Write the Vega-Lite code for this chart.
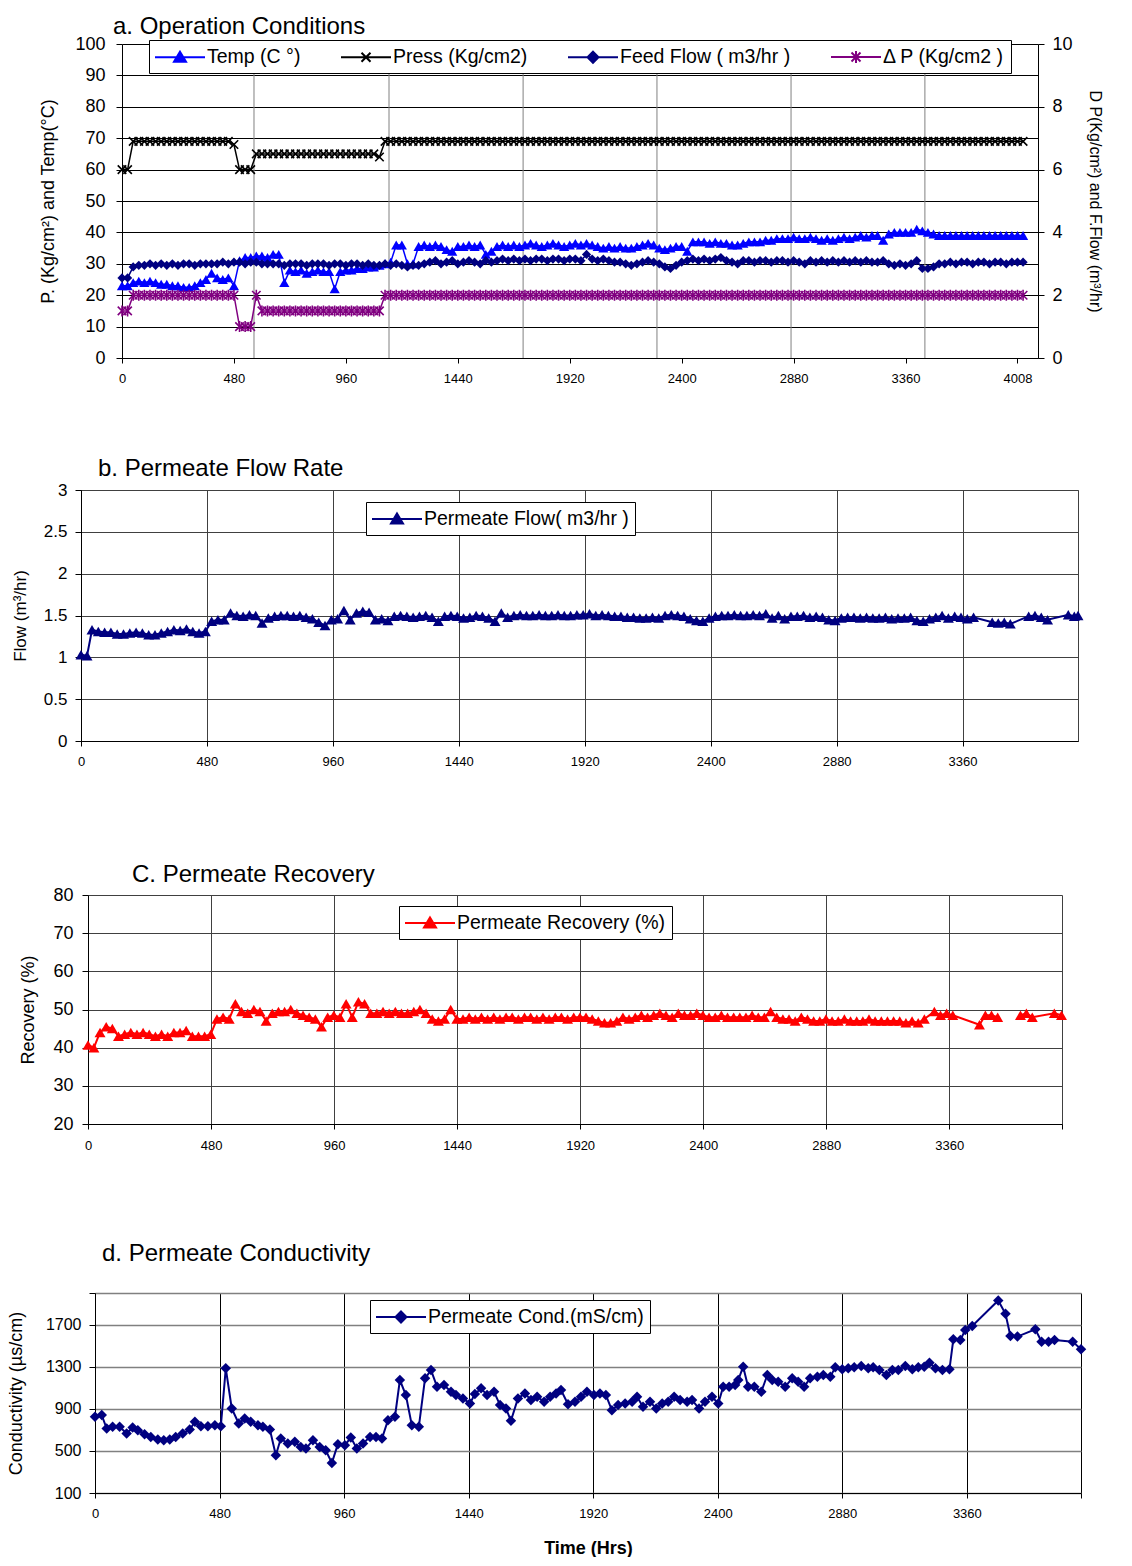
{
"$schema": "https://vega.github.io/schema/vega-lite/v6.json",
"padding": 0,
"background": "white",
"columns": 2,
"spacing": 0,
"bounds": "flush",
"align": "each",
"resolve": {"scale": {"color": "independent", "fill": "independent", "stroke": "independent", "shape": "independent"}, "legend": {"color": "independent", "fill": "independent", "stroke": "independent", "shape": "independent"}},
"config": {
 "font": "Liberation Sans",
 "view": {"stroke": null},
 "axis": {"labelFont": "Liberation Sans", "titleFont": "Liberation Sans", "labelColor": "black", "titleColor": "black", "titleFontWeight": "normal", "domainColor": "black", "tickColor": "black", "gridColor": "black", "gridOpacity": 1, "labelFontSize": 13, "tickSize": 5, "labelFlush": false, "labelOverlap": false},
 "legend": {"labelFont": "Liberation Sans", "labelFontSize": 19.5, "labelColor": "black", "fillColor": "white", "strokeColor": "black", "strokeWidth": 1, "padding": 6, "symbolSize": 400, "symbolStrokeWidth": 2, "labelOffset": 30, "columnPadding": 36, "labelLimit": 400},
 "title": {"font": "Liberation Sans", "fontSize": 24, "fontWeight": "normal", "color": "black", "anchor": "start", "frame": "group"}
},
"datasets": {
 "leg": [{"s":"T"},{"s":"P"},{"s":"F"},{"s":"D"}],
 "ga": [{"t":566},{"t":1145},{"t":1720},{"t":2294},{"t":2869},{"t":3443}],
 "a": [
{"t":0,"T":23,"P":60,"F":2.55,"D":1.5},{"t":24,"T":23,"P":60,"F":2.55,"D":1.5},{"t":48,"T":24,"P":69,"F":2.9,"D":2},{"t":72,"T":24.5,"P":69,"F":2.95,"D":2},{"t":96,"T":24,"P":69,"F":2.95,"D":2},{"t":120,"T":24.5,"P":69,"F":3,"D":2},{"t":144,"T":24,"P":69,"F":2.95,"D":2},{"t":168,"T":23.5,"P":69,"F":3,"D":2},{"t":192,"T":23.5,"P":69,"F":2.95,"D":2},{"t":216,"T":23,"P":69,"F":3,"D":2},
{"t":240,"T":23,"P":69,"F":2.95,"D":2},{"t":264,"T":22.5,"P":69,"F":3,"D":2},{"t":288,"T":22.5,"P":69,"F":3,"D":2},{"t":312,"T":23,"P":69,"F":2.95,"D":2},{"t":336,"T":24,"P":69,"F":3,"D":2},{"t":360,"T":25,"P":69,"F":3,"D":2},{"t":384,"T":27,"P":69,"F":3,"D":2},{"t":408,"T":25.5,"P":69,"F":3,"D":2},{"t":432,"T":25,"P":69,"F":3.05,"D":2},{"t":456,"T":25.5,"P":69,"F":3,"D":2},
{"t":480,"T":23,"P":68,"F":3.05,"D":2},{"t":504,"T":31,"P":60,"F":3.05,"D":1},{"t":528,"T":32,"P":60,"F":3,"D":1},{"t":552,"T":32,"P":60,"F":3.05,"D":1},{"t":576,"T":32.5,"P":65,"F":3.05,"D":2},{"t":600,"T":32.5,"P":65,"F":3,"D":1.5},{"t":624,"T":32,"P":65,"F":3,"D":1.5},{"t":648,"T":33,"P":65,"F":3,"D":1.5},{"t":672,"T":33,"P":65,"F":3,"D":1.5},{"t":696,"T":24,"P":65,"F":2.95,"D":1.5},
{"t":720,"T":28,"P":65,"F":3,"D":1.5},{"t":744,"T":27.5,"P":65,"F":3,"D":1.5},{"t":768,"T":28,"P":65,"F":3,"D":1.5},{"t":792,"T":27,"P":65,"F":2.95,"D":1.5},{"t":816,"T":27.5,"P":65,"F":3,"D":1.5},{"t":840,"T":28,"P":65,"F":3,"D":1.5},{"t":864,"T":27.5,"P":65,"F":3,"D":1.5},{"t":888,"T":27.5,"P":65,"F":2.95,"D":1.5},{"t":912,"T":22,"P":65,"F":3,"D":1.5},{"t":936,"T":27.5,"P":65,"F":3,"D":1.5},
{"t":960,"T":28,"P":65,"F":2.95,"D":1.5},{"t":984,"T":28,"P":65,"F":3,"D":1.5},{"t":1008,"T":28.5,"P":65,"F":3,"D":1.5},{"t":1032,"T":28.5,"P":65,"F":2.95,"D":1.5},{"t":1056,"T":29,"P":65,"F":3,"D":1.5},{"t":1080,"T":29,"P":65,"F":2.95,"D":1.5},{"t":1104,"T":29.5,"P":64,"F":2.95,"D":1.5},{"t":1128,"T":30,"P":69,"F":3,"D":2},{"t":1152,"T":30.5,"P":69,"F":2.95,"D":2},{"t":1176,"T":36,"P":69,"F":3,"D":2},
{"t":1200,"T":36,"P":69,"F":2.95,"D":2},{"t":1224,"T":30,"P":69,"F":2.9,"D":2},{"t":1248,"T":30,"P":69,"F":2.95,"D":2},{"t":1272,"T":35.5,"P":69,"F":2.95,"D":2},{"t":1296,"T":36,"P":69,"F":3,"D":2},{"t":1320,"T":35.5,"P":69,"F":3.05,"D":2},{"t":1344,"T":36,"P":69,"F":3.1,"D":2},{"t":1368,"T":35.5,"P":69,"F":3,"D":2},{"t":1392,"T":34.5,"P":69,"F":3.05,"D":2},{"t":1416,"T":34,"P":69,"F":3.1,"D":2},
{"t":1440,"T":35.5,"P":69,"F":3,"D":2},{"t":1464,"T":35.5,"P":69,"F":3.05,"D":2},{"t":1488,"T":36,"P":69,"F":3.1,"D":2},{"t":1512,"T":35.5,"P":69,"F":3.05,"D":2},{"t":1536,"T":36,"P":69,"F":3,"D":2},{"t":1560,"T":33,"P":69,"F":3.1,"D":2},{"t":1584,"T":34,"P":69,"F":3.05,"D":2},{"t":1608,"T":35.5,"P":69,"F":3.1,"D":2},{"t":1632,"T":36,"P":69,"F":3.15,"D":2},{"t":1656,"T":35.5,"P":69,"F":3.1,"D":2},
{"t":1680,"T":36,"P":69,"F":3.15,"D":2},{"t":1704,"T":35.5,"P":69,"F":3.1,"D":2},{"t":1728,"T":36,"P":69,"F":3.15,"D":2},{"t":1752,"T":36.5,"P":69,"F":3.1,"D":2},{"t":1776,"T":36,"P":69,"F":3.15,"D":2},{"t":1800,"T":35.5,"P":69,"F":3.15,"D":2},{"t":1824,"T":36,"P":69,"F":3.1,"D":2},{"t":1848,"T":36.5,"P":69,"F":3.15,"D":2},{"t":1872,"T":36,"P":69,"F":3.15,"D":2},{"t":1896,"T":35.5,"P":69,"F":3.1,"D":2},
{"t":1920,"T":36,"P":69,"F":3.15,"D":2},{"t":1944,"T":36.5,"P":69,"F":3.15,"D":2},{"t":1968,"T":36,"P":69,"F":3.1,"D":2},{"t":1992,"T":36.5,"P":69,"F":3.3,"D":2},{"t":2016,"T":36,"P":69,"F":3.15,"D":2},{"t":2040,"T":35.5,"P":69,"F":3.1,"D":2},{"t":2064,"T":35,"P":69,"F":3.15,"D":2},{"t":2088,"T":35.5,"P":69,"F":3.1,"D":2},{"t":2112,"T":35,"P":69,"F":3.05,"D":2},{"t":2136,"T":35.5,"P":69,"F":3.05,"D":2},
{"t":2160,"T":35,"P":69,"F":3,"D":2},{"t":2184,"T":35,"P":69,"F":2.95,"D":2},{"t":2208,"T":35.5,"P":69,"F":3,"D":2},{"t":2232,"T":36,"P":69,"F":3.05,"D":2},{"t":2256,"T":36.5,"P":69,"F":3.1,"D":2},{"t":2280,"T":36,"P":69,"F":3.05,"D":2},{"t":2304,"T":35,"P":69,"F":3,"D":2},{"t":2328,"T":34.5,"P":69,"F":2.9,"D":2},{"t":2352,"T":35,"P":69,"F":2.85,"D":2},{"t":2376,"T":35.5,"P":69,"F":2.95,"D":2},
{"t":2400,"T":35.5,"P":69,"F":3.05,"D":2},{"t":2424,"T":34,"P":69,"F":3.1,"D":2},{"t":2448,"T":37,"P":69,"F":3.15,"D":2},{"t":2472,"T":37,"P":69,"F":3.1,"D":2},{"t":2496,"T":37,"P":69,"F":3.15,"D":2},{"t":2520,"T":36.5,"P":69,"F":3.1,"D":2},{"t":2544,"T":37,"P":69,"F":3.15,"D":2},{"t":2568,"T":36.5,"P":69,"F":3.2,"D":2},{"t":2592,"T":36.5,"P":69,"F":3.1,"D":2},{"t":2616,"T":36,"P":69,"F":3.05,"D":2},
{"t":2640,"T":36,"P":69,"F":3,"D":2},{"t":2664,"T":36.5,"P":69,"F":3.1,"D":2},{"t":2688,"T":37,"P":69,"F":3.1,"D":2},{"t":2712,"T":37,"P":69,"F":3.05,"D":2},{"t":2736,"T":37,"P":69,"F":3.1,"D":2},{"t":2760,"T":37.5,"P":69,"F":3.1,"D":2},{"t":2784,"T":37.5,"P":69,"F":3.05,"D":2},{"t":2808,"T":38,"P":69,"F":3.1,"D":2},{"t":2832,"T":38,"P":69,"F":3.1,"D":2},{"t":2856,"T":38,"P":69,"F":3.05,"D":2},
{"t":2880,"T":38.5,"P":69,"F":3.1,"D":2},{"t":2904,"T":38,"P":69,"F":3.05,"D":2},{"t":2928,"T":38,"P":69,"F":3,"D":2},{"t":2952,"T":38.5,"P":69,"F":3.1,"D":2},{"t":2976,"T":38,"P":69,"F":3.05,"D":2},{"t":3000,"T":37.5,"P":69,"F":3.1,"D":2},{"t":3024,"T":38,"P":69,"F":3.05,"D":2},{"t":3048,"T":37.5,"P":69,"F":3.1,"D":2},{"t":3072,"T":38,"P":69,"F":3.05,"D":2},{"t":3096,"T":38.5,"P":69,"F":3.1,"D":2},
{"t":3120,"T":38,"P":69,"F":3.05,"D":2},{"t":3144,"T":38.5,"P":69,"F":3.1,"D":2},{"t":3168,"T":39,"P":69,"F":3.05,"D":2},{"t":3192,"T":38.5,"P":69,"F":3.1,"D":2},{"t":3216,"T":39,"P":69,"F":3.05,"D":2},{"t":3240,"T":39,"P":69,"F":3.05,"D":2},{"t":3264,"T":37.5,"P":69,"F":3.1,"D":2},{"t":3288,"T":39.5,"P":69,"F":3,"D":2},{"t":3312,"T":40,"P":69,"F":2.95,"D":2},{"t":3336,"T":40,"P":69,"F":3,"D":2},
{"t":3360,"T":40,"P":69,"F":2.95,"D":2},{"t":3384,"T":40,"P":69,"F":3,"D":2},{"t":3408,"T":41,"P":69,"F":3.1,"D":2},{"t":3432,"T":40.5,"P":69,"F":2.85,"D":2},{"t":3456,"T":40,"P":69,"F":2.85,"D":2},{"t":3480,"T":39.5,"P":69,"F":2.9,"D":2},{"t":3504,"T":39,"P":69,"F":3,"D":2},{"t":3528,"T":39,"P":69,"F":3,"D":2},{"t":3552,"T":39,"P":69,"F":3.05,"D":2},{"t":3576,"T":39,"P":69,"F":3,"D":2},
{"t":3600,"T":39,"P":69,"F":3.05,"D":2},{"t":3624,"T":39,"P":69,"F":3.05,"D":2},{"t":3648,"T":39,"P":69,"F":3,"D":2},{"t":3672,"T":39,"P":69,"F":3.05,"D":2},{"t":3696,"T":39,"P":69,"F":3.05,"D":2},{"t":3720,"T":39,"P":69,"F":3,"D":2},{"t":3744,"T":39,"P":69,"F":3.05,"D":2},{"t":3768,"T":39,"P":69,"F":3.05,"D":2},{"t":3792,"T":39,"P":69,"F":3,"D":2},{"t":3816,"T":39,"P":69,"F":3.05,"D":2},
{"t":3840,"T":39,"P":69,"F":3.05,"D":2},{"t":3864,"T":39,"P":69,"F":3.05,"D":2}
 ],
 "b": [
{"t":0,"v":1.03},{"t":23,"v":1.02},{"t":42,"v":1.33},{"t":66,"v":1.31},{"t":90,"v":1.3},{"t":114,"v":1.3},{"t":138,"v":1.28},{"t":162,"v":1.28},{"t":186,"v":1.29},{"t":210,"v":1.3},{"t":234,"v":1.29},{"t":258,"v":1.27},{"t":282,"v":1.27},{"t":306,"v":1.29},{"t":330,"v":1.31},{"t":354,"v":1.33},{"t":378,"v":1.32},{"t":402,"v":1.34},{"t":426,"v":1.31},{"t":450,"v":1.29},{"t":474,"v":1.31},{"t":498,"v":1.43},{"t":522,"v":1.45},{"t":546,"v":1.45},{"t":570,"v":1.53},{"t":594,"v":1.5},{"t":618,"v":1.49},{"t":642,"v":1.51},{"t":666,"v":1.5},{"t":690,"v":1.41},{"t":714,"v":1.47},{"t":738,"v":1.49},{"t":762,"v":1.5},{"t":786,"v":1.5},{"t":810,"v":1.49},{"t":834,"v":1.5},{"t":858,"v":1.48},{"t":882,"v":1.46},{"t":906,"v":1.42},{"t":930,"v":1.38},{"t":954,"v":1.45},{"t":978,"v":1.46},{"t":1002,"v":1.56},{"t":1026,"v":1.45},{"t":1050,"v":1.53},{"t":1074,"v":1.55},{"t":1098,"v":1.54},{"t":1122,"v":1.45},{"t":1146,"v":1.46},{"t":1170,"v":1.44},{"t":1194,"v":1.49},{"t":1218,"v":1.5},{"t":1242,"v":1.49},{"t":1266,"v":1.48},{"t":1290,"v":1.49},{"t":1314,"v":1.5},{"t":1338,"v":1.48},{"t":1362,"v":1.43},{"t":1386,"v":1.49},{"t":1410,"v":1.5},{"t":1434,"v":1.49},{"t":1458,"v":1.47},{"t":1482,"v":1.48},{"t":1506,"v":1.5},{"t":1530,"v":1.49},{"t":1554,"v":1.47},{"t":1578,"v":1.43},{"t":1602,"v":1.53},{"t":1626,"v":1.48},{"t":1650,"v":1.5},{"t":1674,"v":1.51},{"t":1698,"v":1.5},{"t":1722,"v":1.5},{"t":1746,"v":1.51},{"t":1770,"v":1.5},{"t":1794,"v":1.5},{"t":1818,"v":1.51},{"t":1842,"v":1.5},{"t":1866,"v":1.5},{"t":1890,"v":1.51},{"t":1914,"v":1.51},{"t":1938,"v":1.52},{"t":1962,"v":1.5},{"t":1986,"v":1.51},{"t":2010,"v":1.5},{"t":2034,"v":1.49},{"t":2058,"v":1.49},{"t":2082,"v":1.48},{"t":2106,"v":1.48},{"t":2130,"v":1.47},{"t":2154,"v":1.47},{"t":2178,"v":1.48},{"t":2202,"v":1.47},{"t":2226,"v":1.5},{"t":2250,"v":1.51},{"t":2274,"v":1.5},{"t":2298,"v":1.49},{"t":2322,"v":1.46},{"t":2346,"v":1.44},{"t":2370,"v":1.43},{"t":2394,"v":1.47},{"t":2418,"v":1.49},{"t":2442,"v":1.5},{"t":2466,"v":1.5},{"t":2490,"v":1.51},{"t":2514,"v":1.5},{"t":2538,"v":1.5},{"t":2562,"v":1.51},{"t":2586,"v":1.5},{"t":2610,"v":1.52},{"t":2634,"v":1.47},{"t":2658,"v":1.5},{"t":2682,"v":1.46},{"t":2706,"v":1.49},{"t":2730,"v":1.49},{"t":2754,"v":1.5},{"t":2778,"v":1.48},{"t":2802,"v":1.49},{"t":2826,"v":1.48},{"t":2850,"v":1.45},{"t":2874,"v":1.44},{"t":2898,"v":1.47},{"t":2922,"v":1.48},{"t":2946,"v":1.48},{"t":2970,"v":1.47},{"t":2994,"v":1.48},{"t":3018,"v":1.47},{"t":3042,"v":1.47},{"t":3066,"v":1.48},{"t":3090,"v":1.46},{"t":3114,"v":1.47},{"t":3138,"v":1.47},{"t":3162,"v":1.48},{"t":3186,"v":1.44},{"t":3210,"v":1.43},{"t":3234,"v":1.46},{"t":3258,"v":1.48},{"t":3282,"v":1.5},{"t":3306,"v":1.47},{"t":3330,"v":1.49},{"t":3354,"v":1.48},{"t":3378,"v":1.46},{"t":3402,"v":1.48},{"t":3473,"v":1.42},{"t":3496,"v":1.41},{"t":3519,"v":1.42},{"t":3542,"v":1.4},{"t":3612,"v":1.49},{"t":3636,"v":1.5},{"t":3660,"v":1.48},{"t":3684,"v":1.45},{"t":3763,"v":1.51},{"t":3786,"v":1.49},{"t":3800,"v":1.5}
 ],
 "c": [
{"t":0,"v":40.7,"g":1},{"t":23,"v":40,"g":1},{"t":47,"v":44,"g":1},{"t":71,"v":45.5,"g":1},{"t":95,"v":45,"g":1},{"t":119,"v":43,"g":1},{"t":143,"v":43.5,"g":1},{"t":167,"v":44,"g":1},{"t":191,"v":43.5,"g":1},{"t":215,"v":44,"g":1},{"t":239,"v":43.5,"g":1},{"t":263,"v":43,"g":1},{"t":287,"v":43.5,"g":1},{"t":311,"v":43,"g":1},{"t":335,"v":44,"g":1},{"t":359,"v":44,"g":1},{"t":383,"v":44.5,"g":1},{"t":407,"v":43,"g":1},{"t":431,"v":43,"g":1},{"t":455,"v":43,"g":1},{"t":479,"v":43.5,"g":1},{"t":503,"v":47.5,"g":1},{"t":527,"v":48,"g":1},{"t":551,"v":47.5,"g":1},{"t":575,"v":51.5,"g":1},{"t":599,"v":49.5,"g":1},{"t":623,"v":49,"g":1},{"t":647,"v":50,"g":1},{"t":671,"v":49.5,"g":1},{"t":695,"v":47,"g":1},{"t":719,"v":49,"g":1},{"t":743,"v":49.5,"g":1},{"t":767,"v":49.5,"g":1},{"t":791,"v":50,"g":1},{"t":815,"v":49,"g":1},{"t":839,"v":48.5,"g":1},{"t":863,"v":48,"g":1},{"t":887,"v":47.5,"g":1},{"t":911,"v":45.5,"g":1},{"t":935,"v":48,"g":1},{"t":959,"v":48.5,"g":1},{"t":983,"v":48,"g":1},{"t":1007,"v":51.5,"g":1},{"t":1031,"v":48,"g":1},{"t":1055,"v":52,"g":1},{"t":1079,"v":51.5,"g":1},{"t":1103,"v":49,"g":1},{"t":1127,"v":49,"g":1},{"t":1151,"v":49.5,"g":1},{"t":1175,"v":49,"g":1},{"t":1199,"v":49.5,"g":1},{"t":1223,"v":49,"g":1},{"t":1247,"v":49,"g":1},{"t":1271,"v":49.5,"g":1},{"t":1295,"v":50,"g":1},{"t":1319,"v":49,"g":1},{"t":1343,"v":47.5,"g":1},{"t":1367,"v":47,"g":1},{"t":1391,"v":47.5,"g":1},{"t":1415,"v":50,"g":1},{"t":1439,"v":47.5,"g":1},{"t":1463,"v":47.5,"g":1},{"t":1487,"v":48,"g":1},{"t":1511,"v":47.5,"g":1},{"t":1535,"v":48,"g":1},{"t":1559,"v":47.5,"g":1},{"t":1583,"v":48,"g":1},{"t":1607,"v":47.5,"g":1},{"t":1631,"v":48,"g":1},{"t":1655,"v":48,"g":1},{"t":1679,"v":47.5,"g":1},{"t":1703,"v":48,"g":1},{"t":1727,"v":48,"g":1},{"t":1751,"v":47.5,"g":1},{"t":1775,"v":48,"g":1},{"t":1799,"v":47.5,"g":1},{"t":1823,"v":48,"g":1},{"t":1847,"v":48,"g":1},{"t":1871,"v":47.5,"g":1},{"t":1895,"v":48,"g":1},{"t":1919,"v":48,"g":1},{"t":1943,"v":48,"g":1},{"t":1967,"v":47.5,"g":1},{"t":1991,"v":47,"g":1},{"t":2015,"v":46.5,"g":1},{"t":2039,"v":46.5,"g":1},{"t":2063,"v":47,"g":1},{"t":2087,"v":48,"g":1},{"t":2111,"v":47.5,"g":1},{"t":2135,"v":48,"g":1},{"t":2159,"v":48.5,"g":1},{"t":2183,"v":48,"g":1},{"t":2207,"v":48.5,"g":1},{"t":2231,"v":49,"g":1},{"t":2255,"v":48.5,"g":1},{"t":2279,"v":48,"g":1},{"t":2303,"v":49,"g":1},{"t":2327,"v":48.5,"g":1},{"t":2351,"v":48.5,"g":1},{"t":2375,"v":49,"g":1},{"t":2399,"v":48.5,"g":1},{"t":2423,"v":48,"g":1},{"t":2447,"v":48,"g":1},{"t":2471,"v":48.5,"g":1},{"t":2495,"v":48,"g":1},{"t":2519,"v":48,"g":1},{"t":2543,"v":48,"g":1},{"t":2567,"v":48,"g":1},{"t":2591,"v":48.5,"g":1},{"t":2615,"v":48,"g":1},{"t":2639,"v":48,"g":1},{"t":2663,"v":49.5,"g":1},{"t":2687,"v":48,"g":1},{"t":2711,"v":47.5,"g":1},{"t":2735,"v":47.5,"g":1},{"t":2759,"v":47,"g":1},{"t":2783,"v":48,"g":1},{"t":2807,"v":47.5,"g":1},{"t":2831,"v":47,"g":1},{"t":2855,"v":47,"g":1},{"t":2879,"v":47.5,"g":1},{"t":2903,"v":47,"g":1},{"t":2927,"v":47,"g":1},{"t":2951,"v":47.5,"g":1},{"t":2975,"v":47,"g":1},{"t":2999,"v":47,"g":1},{"t":3023,"v":47,"g":1},{"t":3047,"v":47.5,"g":1},{"t":3071,"v":47,"g":1},{"t":3095,"v":47,"g":1},{"t":3119,"v":47,"g":1},{"t":3143,"v":47,"g":1},{"t":3167,"v":47,"g":1},{"t":3191,"v":46.5,"g":1},{"t":3215,"v":47,"g":1},{"t":3239,"v":46.5,"g":1},{"t":3263,"v":47.5,"g":1},{"t":3302,"v":49.5,"g":1},{"t":3326,"v":48.5,"g":1},{"t":3350,"v":49,"g":1},{"t":3374,"v":48.5,"g":1},{"t":3478,"v":46,"g":1},{"t":3501,"v":48.5,"g":1},{"t":3525,"v":48.5,"g":1},{"t":3549,"v":48,"g":1},{"t":3638,"v":48.5,"g":2},{"t":3661,"v":49,"g":2},{"t":3684,"v":48,"g":2},{"t":3770,"v":49,"g":2},{"t":3798,"v":48.5,"g":2}
 ],
 "d": [
{"t":0,"v":824},{"t":26,"v":840},{"t":45,"v":713},{"t":68,"v":729},{"t":95,"v":729},{"t":122,"v":665},{"t":145,"v":722},{"t":165,"v":697},{"t":191,"v":659},{"t":215,"v":633},{"t":242,"v":608},{"t":265,"v":602},{"t":288,"v":608},{"t":311,"v":633},{"t":338,"v":665},{"t":365,"v":703},{"t":385,"v":776},{"t":408,"v":735},{"t":435,"v":735},{"t":462,"v":744},{"t":485,"v":735},{"t":504,"v":1284},{"t":527,"v":903},{"t":554,"v":760},{"t":577,"v":808},{"t":600,"v":776},{"t":628,"v":744},{"t":647,"v":729},{"t":674,"v":703},{"t":697,"v":459},{"t":716,"v":617},{"t":743,"v":570},{"t":770,"v":586},{"t":793,"v":538},{"t":813,"v":522},{"t":840,"v":602},{"t":866,"v":538},{"t":889,"v":506},{"t":913,"v":386},{"t":936,"v":564},{"t":963,"v":554},{"t":986,"v":627},{"t":1009,"v":522},{"t":1033,"v":570},{"t":1060,"v":633},{"t":1083,"v":633},{"t":1106,"v":617},{"t":1129,"v":792},{"t":1156,"v":824},{"t":1175,"v":1173},{"t":1198,"v":1030},{"t":1221,"v":744},{"t":1248,"v":729},{"t":1272,"v":1189},{"t":1295,"v":1268},{"t":1318,"v":1110},{"t":1345,"v":1125},{"t":1372,"v":1062},{"t":1391,"v":1030},{"t":1418,"v":998},{"t":1445,"v":951},{"t":1464,"v":1040},{"t":1488,"v":1094},{"t":1511,"v":1030},{"t":1538,"v":1062},{"t":1561,"v":935},{"t":1584,"v":903},{"t":1603,"v":786},{"t":1630,"v":998},{"t":1657,"v":1046},{"t":1680,"v":983},{"t":1704,"v":1014},{"t":1731,"v":967},{"t":1754,"v":1014},{"t":1777,"v":1046},{"t":1796,"v":1078},{"t":1823,"v":944},{"t":1850,"v":967},{"t":1873,"v":1014},{"t":1896,"v":1062},{"t":1923,"v":1030},{"t":1946,"v":1046},{"t":1969,"v":1030},{"t":1992,"v":887},{"t":2016,"v":935},{"t":2043,"v":951},{"t":2070,"v":967},{"t":2089,"v":1014},{"t":2112,"v":919},{"t":2139,"v":967},{"t":2163,"v":903},{"t":2186,"v":951},{"t":2209,"v":967},{"t":2232,"v":1014},{"t":2255,"v":983},{"t":2282,"v":967},{"t":2301,"v":983},{"t":2328,"v":903},{"t":2351,"v":967},{"t":2378,"v":1014},{"t":2402,"v":951},{"t":2421,"v":1110},{"t":2444,"v":1110},{"t":2467,"v":1125},{"t":2479,"v":1173},{"t":2498,"v":1300},{"t":2517,"v":1110},{"t":2541,"v":1110},{"t":2568,"v":1062},{"t":2591,"v":1221},{"t":2610,"v":1173},{"t":2633,"v":1157},{"t":2660,"v":1110},{"t":2687,"v":1189},{"t":2710,"v":1157},{"t":2733,"v":1110},{"t":2756,"v":1189},{"t":2784,"v":1205},{"t":2807,"v":1221},{"t":2834,"v":1205},{"t":2853,"v":1294},{"t":2880,"v":1275},{"t":2903,"v":1284},{"t":2926,"v":1294},{"t":2953,"v":1306},{"t":2980,"v":1284},{"t":2999,"v":1294},{"t":3023,"v":1268},{"t":3050,"v":1221},{"t":3073,"v":1268},{"t":3096,"v":1268},{"t":3123,"v":1306},{"t":3150,"v":1275},{"t":3173,"v":1294},{"t":3196,"v":1300},{"t":3216,"v":1338},{"t":3239,"v":1284},{"t":3266,"v":1268},{"t":3293,"v":1275},{"t":3308,"v":1560},{"t":3335,"v":1554},{"t":3354,"v":1649},{"t":3381,"v":1687},{"t":3481,"v":1929},{"t":3509,"v":1802},{"t":3528,"v":1592},{"t":3555,"v":1586},{"t":3624,"v":1656},{"t":3648,"v":1538},{"t":3675,"v":1538},{"t":3698,"v":1554},{"t":3768,"v":1538},{"t":3800,"v":1465}
 ]
},
"concat": [
 {"width": 81, "height": 44, "data": {"values": [{}]}, "mark": {"type": "point", "opacity": 0}},
 {"width": 1, "height": 44, "data": {"values": [{}]}, "mark": {"type": "point", "opacity": 0}},
 {"width": 81, "height": 314, "data": {"values": [{}]}, "mark": {"type": "point", "opacity": 0}},
 {
  "width": 957, "height": 314,
  "title": {"text": "a. Operation Conditions", "offset": -4, "dx": 32},
  "data": {"name": "a"},
  "encoding": {"x": {"field": "t", "type": "quantitative", "scale": {"domain": [0, 3928], "range": [41, 957], "nice": false, "zero": false}, "axis": {"values": [0, 480, 960, 1440, 1920, 2400, 2880, 3360, 3840], "format": "d", "labelExpr": "datum.value == 3840 ? '4008' : datum.label", "title": null, "grid": false, "labelFontSize": 13, "labelPadding": 9, "tickSize": 5}}},
  "layer": [
   {"data": {"name": "ga"}, "mark": {"type": "rule", "color": "#808080", "strokeWidth": 1}, "encoding": {}},
   {"mark": {"type": "line", "color": "#0000FF", "strokeWidth": 1.5}, "encoding": {"y": {"field": "T", "type": "quantitative", "scale": {"domain": [0, 100], "nice": false, "zero": false}, "axis": {"orient": "left", "offset": -41, "values": [0, 10, 20, 30, 40, 50, 60, 70, 80, 90, 100], "format": "d", "title": "P. (Kg/cm²) and Temp(°C)", "titleFontSize": 18, "titlePadding": 17, "labelFontSize": 18, "labelPadding": 11, "tickSize": 6, "grid": true, "gridColor": "black", "gridWidth": 1}}}},
   {"mark": {"type": "point", "shape": "triangle-up", "filled": true, "color": "#0000FF", "size": 105, "opacity": 1}, "encoding": {"y": {"field": "T", "type": "quantitative", "scale": {"domain": [0, 100], "nice": false, "zero": false}, "axis": null}}},
   {"mark": {"type": "line", "color": "#000000", "strokeWidth": 1.5}, "encoding": {"y": {"field": "P", "type": "quantitative", "scale": {"domain": [0, 100], "nice": false, "zero": false}, "axis": null}}},
   {"mark": {"type": "point", "shape": "M-1,-1L1,1M-1,1L1,-1", "filled": false, "color": "#000000", "strokeWidth": 1.6, "size": 72, "opacity": 1}, "encoding": {"y": {"field": "P", "type": "quantitative", "scale": {"domain": [0, 100], "nice": false, "zero": false}, "axis": null}}},
   {"mark": {"type": "line", "color": "#000080", "strokeWidth": 1.5}, "encoding": {"y": {"field": "F", "type": "quantitative", "scale": {"domain": [0, 10], "nice": false, "zero": false}, "axis": {"orient": "right", "values": [0, 2, 4, 6, 8, 10], "format": "d", "title": "D P(Kg/cm²) and F.Flow (m³/hr)", "titleFontSize": 16, "titlePadding": 14, "labelFontSize": 18, "labelPadding": 8, "tickSize": 6, "grid": false}}}},
   {"mark": {"type": "point", "shape": "diamond", "filled": true, "color": "#000080", "size": 85, "opacity": 1}, "encoding": {"y": {"field": "F", "type": "quantitative", "scale": {"domain": [0, 10], "nice": false, "zero": false}, "axis": null}}},
   {"mark": {"type": "line", "color": "#800080", "strokeWidth": 1.5}, "encoding": {"y": {"field": "D", "type": "quantitative", "scale": {"domain": [0, 10], "nice": false, "zero": false}, "axis": null}}},
   {"mark": {"type": "point", "shape": "M-1,-1L1,1M-1,1L1,-1M0,-1.3L0,1.3", "filled": false, "color": "#800080", "strokeWidth": 1.6, "size": 72, "opacity": 1}, "encoding": {"y": {"field": "D", "type": "quantitative", "scale": {"domain": [0, 10], "nice": false, "zero": false}, "axis": null}}},
   {"data": {"name": "leg"}, "transform": [{"filter": "false"}], "mark": {"type": "point", "filled": true, "opacity": 1},
    "encoding": {
     "fill": {"field": "s", "type": "nominal", "scale": {"domain": ["T", "P", "F", "D"], "range": ["#0000FF", "#000000", "#000080", "#800080"]}, "legend": {"title": null, "orient": "none", "legendX": 68, "legendY": -4, "direction": "horizontal", "labelExpr": "datum.label == 'T' ? 'Temp (C °)' : datum.label == 'P' ? 'Press (Kg/cm2)' : datum.label == 'F' ? 'Feed Flow ( m3/hr )' : 'Δ P (Kg/cm2 )'"}},
     "stroke": {"field": "s", "type": "nominal", "scale": {"domain": ["T", "P", "F", "D"], "range": ["#0000FF", "#000000", "#000080", "#800080"]}},
     "shape": {"field": "s", "type": "nominal", "scale": {"domain": ["T", "P", "F", "D"], "range": ["M-1.1,0L3.9,0M1.4,-0.55L2,0.45L0.8,0.45Z", "M-1.1,0L3.9,0M0.95,-0.45L1.85,0.45M0.95,0.45L1.85,-0.45", "M-1.1,0L3.9,0M1.4,-0.55L1.95,0L1.4,0.55L0.85,0Z", "M-1.1,0L3.9,0M0.95,-0.45L1.85,0.45M0.95,0.45L1.85,-0.45M1.4,-0.6L1.4,0.6"]}}
    }}
  ],
  "resolve": {"scale": {"y": "independent"}}
 },
 {"width": 81, "height": 132, "data": {"values": [{}]}, "mark": {"type": "point", "opacity": 0}},
 {"width": 1, "height": 132, "data": {"values": [{}]}, "mark": {"type": "point", "opacity": 0}},
 {"width": 81, "height": 251, "data": {"values": [{}]}, "mark": {"type": "point", "opacity": 0}},
 {
  "width": 997, "height": 251,
  "data": {"name": "b"},
  "title": {"text": "b. Permeate Flow Rate", "offset": 0, "dx": 17},
  "view": {"stroke": "#404040", "strokeWidth": 1},
  "encoding": {
   "x": {"field": "t", "type": "quantitative", "scale": {"domain": [0, 3800], "nice": false, "zero": false}, "axis": {"values": [0, 480, 960, 1440, 1920, 2400, 2880, 3360], "format": "d", "title": null, "grid": true, "gridColor": "#404040", "labelFontSize": 13, "labelPadding": 9, "tickSize": 5}},
   "y": {"field": "v", "type": "quantitative", "scale": {"domain": [0, 3], "nice": false, "zero": false}, "axis": {"values": [0, 0.5, 1, 1.5, 2, 2.5, 3], "format": "~f", "title": "Flow (m³/hr)", "titleFontSize": 17, "titlePadding": 14, "labelFontSize": 17, "labelPadding": 8, "tickSize": 6, "grid": true, "gridColor": "#404040"}}
  },
  "layer": [
   {"mark": {"type": "line", "color": "#000080", "strokeWidth": 2}},
   {"mark": {"type": "point", "shape": "triangle-up", "filled": true, "color": "#000080", "size": 120, "opacity": 1}},
   {"transform": [{"filter": "false"}], "mark": {"type": "point", "filled": true, "opacity": 1},
    "encoding": {
     "fill": {"datum": "Permeate Flow( m3/hr )", "scale": {"domain": ["Permeate Flow( m3/hr )"], "range": ["#000080"]}, "legend": {"title": null, "orient": "none", "legendX": 285, "legendY": 12, "direction": "horizontal"}},
     "stroke": {"datum": "Permeate Flow( m3/hr )", "scale": {"domain": ["Permeate Flow( m3/hr )"], "range": ["#000080"]}},
     "shape": {"datum": "Permeate Flow( m3/hr )", "scale": {"domain": ["Permeate Flow( m3/hr )"], "range": ["M-1.1,0L3.9,0M1.4,-0.55L2,0.45L0.8,0.45Z"]}}
    }}
  ]
 },
 {"width": 81, "height": 154, "data": {"values": [{}]}, "mark": {"type": "point", "opacity": 0}},
 {"width": 1, "height": 154, "data": {"values": [{}]}, "mark": {"type": "point", "opacity": 0}},
 {"width": 81, "height": 229, "data": {"values": [{}]}, "mark": {"type": "point", "opacity": 0}},
 {
  "width": 981, "height": 229,
  "data": {"name": "c"},
  "title": {"text": "C. Permeate Recovery", "offset": -1, "dx": 51},
  "encoding": {
   "x": {"field": "t", "type": "quantitative", "scale": {"domain": [0, 3800], "range": [7, 981], "nice": false, "zero": false}, "axis": {"values": [0, 480, 960, 1440, 1920, 2400, 2880, 3360, 3800], "format": "d", "labelExpr": "datum.value == 3800 ? '' : datum.label", "title": null, "grid": true, "gridColor": "#404040", "labelFontSize": 13, "labelPadding": 10, "tickSize": 5}},
   "y": {"field": "v", "type": "quantitative", "scale": {"domain": [20, 80], "nice": false, "zero": false}, "axis": {"offset": -7, "values": [20, 30, 40, 50, 60, 70, 80], "format": "d", "title": "Recovery (%)", "titleFontSize": 18, "titlePadding": 15, "labelFontSize": 18, "labelPadding": 9, "tickSize": 6, "grid": true, "gridColor": "#404040"}}
  },
  "layer": [
   {"mark": {"type": "line", "color": "#FF0000", "strokeWidth": 2}, "encoding": {"detail": {"field": "g", "type": "nominal"}}},
   {"mark": {"type": "point", "shape": "triangle-up", "filled": true, "color": "#FF0000", "size": 120, "opacity": 1}},
   {"transform": [{"filter": "false"}], "mark": {"type": "point", "filled": true, "opacity": 1},
    "encoding": {
     "fill": {"datum": "Permeate Recovery (%)", "scale": {"domain": ["Permeate Recovery (%)"], "range": ["#FF0000"]}, "legend": {"title": null, "orient": "none", "legendX": 318, "legendY": 11, "direction": "horizontal"}},
     "stroke": {"datum": "Permeate Recovery (%)", "scale": {"domain": ["Permeate Recovery (%)"], "range": ["#FF0000"]}},
     "shape": {"datum": "Permeate Recovery (%)", "scale": {"domain": ["Permeate Recovery (%)"], "range": ["M-1.1,0L3.9,0M1.4,-0.55L2,0.45L0.8,0.45Z"]}}
    }}
  ]
 },
 {"width": 81, "height": 169, "data": {"values": [{}]}, "mark": {"type": "point", "opacity": 0}},
 {"width": 1, "height": 169, "data": {"values": [{}]}, "mark": {"type": "point", "opacity": 0}},
 {"width": 81, "height": 200, "data": {"values": [{}]}, "mark": {"type": "point", "opacity": 0}},
 {
  "width": 1000, "height": 200,
  "data": {"name": "d"},
  "title": {"text": "d. Permeate Conductivity", "offset": 19, "dx": 21},
  "encoding": {
   "x": {"field": "t", "type": "quantitative", "scale": {"domain": [0, 3800], "range": [14, 1000], "nice": false, "zero": false}, "axis": {"values": [0, 480, 960, 1440, 1920, 2400, 2880, 3360, 3800], "format": "d", "labelExpr": "datum.value == 3800 ? '' : datum.label", "title": "Time (Hrs)", "titleFontSize": 18, "titleFontWeight": "bold", "titlePadding": 19, "grid": true, "gridColor": "#000000", "labelFontSize": 13, "labelPadding": 9, "tickSize": 5}},
   "y": {"field": "v", "type": "quantitative", "scale": {"domain": [100, 2000], "nice": false, "zero": false}, "axis": {"offset": -14, "values": [100, 500, 900, 1300, 1700, 2000], "format": "d", "labelExpr": "datum.value == 2000 ? '' : datum.label", "title": "Conductivity (µs/cm)", "titleFontSize": 18, "titlePadding": 20, "labelFontSize": 16, "labelPadding": 8, "tickSize": 6, "grid": true, "gridColor": "#808080", "gridWidth": 1.5}}
  },
  "layer": [
   {"mark": {"type": "line", "color": "#000080", "strokeWidth": 2}},
   {"mark": {"type": "point", "shape": "diamond", "filled": true, "color": "#000080", "size": 110, "opacity": 1}},
   {"transform": [{"filter": "false"}], "mark": {"type": "point", "filled": true, "opacity": 1},
    "encoding": {
     "fill": {"datum": "Permeate Cond.(mS/cm)", "scale": {"domain": ["Permeate Cond.(mS/cm)"], "range": ["#000080"]}, "legend": {"title": null, "orient": "none", "legendX": 289, "legendY": 7, "direction": "horizontal"}},
     "stroke": {"datum": "Permeate Cond.(mS/cm)", "scale": {"domain": ["Permeate Cond.(mS/cm)"], "range": ["#000080"]}},
     "shape": {"datum": "Permeate Cond.(mS/cm)", "scale": {"domain": ["Permeate Cond.(mS/cm)"], "range": ["M-1.1,0L3.9,0M1.4,-0.55L1.95,0L1.4,0.55L0.85,0Z"]}}
    }}
  ]
 }
]
}
